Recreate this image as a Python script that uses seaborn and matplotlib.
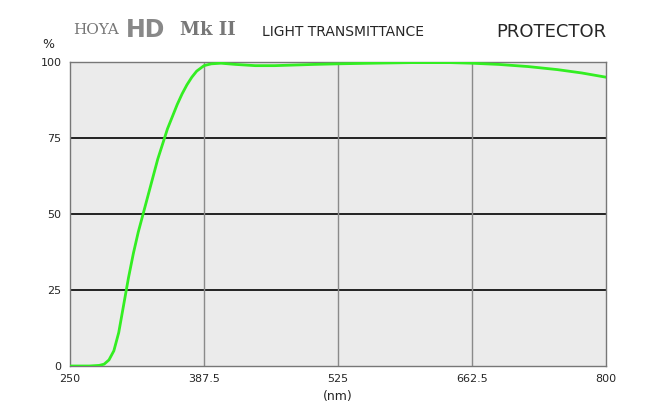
import numpy as np
import pandas as pd
import seaborn as sns
import matplotlib.pyplot as plt

wavelength = [250, 260, 270, 280, 285, 290, 295, 300, 305, 310, 315, 320, 325, 330, 335,
              340, 345, 350, 355, 360, 365, 370, 375, 380, 387.5, 395, 405, 420, 440,
              460, 480, 500, 525, 560, 600, 640, 662.5, 690, 720, 750, 775, 800]
transmittance = [0, 0, 0, 0.2, 0.6, 2, 5, 11, 20, 29, 37, 44, 50, 56, 62,
                 68, 73, 78, 82, 86, 89.5, 92.5, 95, 97, 98.8, 99.4, 99.6, 99.2, 98.8,
                 98.8, 99, 99.2, 99.4, 99.6, 99.8, 99.8, 99.6, 99.2, 98.5, 97.5, 96.4, 95]
xticks = [250, 387.5, 525, 662.5, 800]
xlabels = ['250', '387.5', '525', '662.5', '800']
yticks = [0, 25, 50, 75, 100]

df = pd.DataFrame({'nm': wavelength, 'T': transmittance})

sns.set_style('white')
plt.rcParams['font.family'] = ['DejaVu Sans']
fig = plt.figure(figsize=(6.58, 4.11), dpi=100)
ax = fig.add_axes([70 / 658, 45 / 411, 536 / 658, 304 / 411])
ax.set_facecolor('#ebebeb')

for y in yticks[1:-1]:
    ax.axhline(y, color='black', lw=1.2, zorder=1)
for x in xticks[1:-1]:
    ax.axvline(x, color='#8a8a8a', lw=1, zorder=1)

sns.lineplot(data=df, x='nm', y='T', ax=ax, color='#33ee22', lw=2, zorder=3)

ax.set_xlim(250, 800)
ax.set_ylim(0, 100)
ax.set_xticks(xticks)
ax.set_xticklabels(xlabels, fontsize=8)
ax.set_yticks(yticks)
ax.set_yticklabels([str(v) for v in yticks], fontsize=8)
ax.tick_params(length=0, pad=6)
ax.set_xlabel('(nm)', fontsize=9, labelpad=4)
ax.set_ylabel('')
for s in ax.spines.values():
    s.set_color('#777777')
    s.set_linewidth(1)

fig.text(42 / 658, 1 - 44 / 411, '%', fontsize=9, ha='left', va='center')
fig.text(73 / 658, 1 - 30 / 411, 'HOYA', fontsize=11, color='#777777', ha='left', va='center', family='DejaVu Serif')
fig.text(126 / 658, 1 - 30 / 411, 'HD', fontsize=17, color='#888888', fontweight='bold', ha='left', va='center')
fig.text(180 / 658, 1 - 30 / 411, 'Mk II', fontsize=13, color='#777777', fontweight='bold', ha='left', va='center', family='DejaVu Serif')
fig.text(262 / 658, 1 - 32 / 411, 'LIGHT TRANSMITTANCE', fontsize=10, ha='left', va='center')
fig.text(606 / 658, 1 - 32 / 411, 'PROTECTOR', fontsize=13, ha='right', va='center')

fig.savefig('out.png', dpi=100)
